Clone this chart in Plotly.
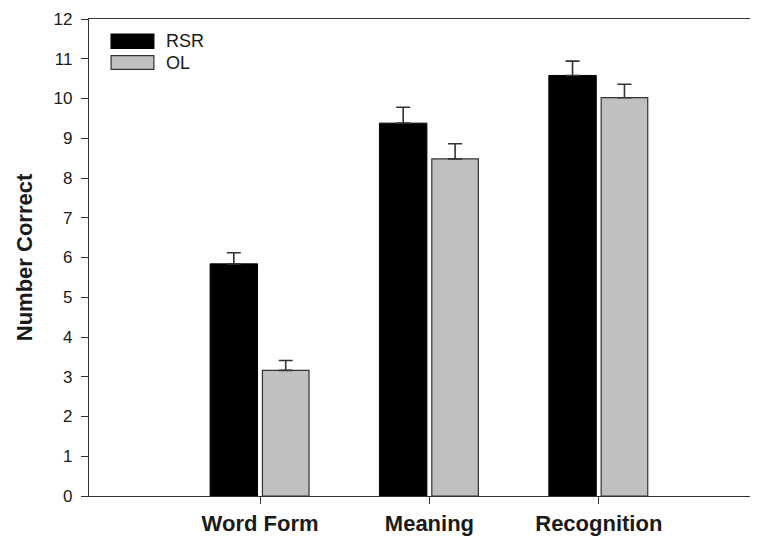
import plotly.graph_objects as go

categories = ["Word Form", "Meaning", "Recognition"]
cat_pos = [1, 2, 3]
rsr_values = [5.84, 9.38, 10.58]
rsr_err = [0.28, 0.40, 0.36]
ol_values = [3.16, 8.48, 10.02]
ol_err = [0.25, 0.38, 0.34]
y_ticks = list(range(0, 13))

font_family = "Liberation Sans, Arial, sans-serif"
ink = "#1a1a1a"

fig = go.Figure()
fig.add_trace(go.Bar(
    x=cat_pos, y=rsr_values, name="RSR",
    width=0.28, offset=-0.295,
    marker=dict(color="#000000", line=dict(color="#000000", width=1)),
    error_y=dict(type="data", array=rsr_err, symmetric=False,
                 arrayminus=[0] * len(rsr_err),
                 color="#333333", thickness=1.6, width=7),
))
fig.add_trace(go.Bar(
    x=cat_pos, y=ol_values, name="OL",
    width=0.275, offset=0.014,
    marker=dict(color="#c0c0c0", line=dict(color="#333333", width=1.2)),
    error_y=dict(type="data", array=ol_err, symmetric=False,
                 arrayminus=[0] * len(ol_err),
                 color="#333333", thickness=1.6, width=7),
))

# custom legend (wide swatches like the reference)
legend_items = [("RSR", "#000000", "#000000", 0.9686, 0.9386),
                ("OL", "#c0c0c0", "#333333", 0.9231, 0.8945)]
for name, fill, edge, y1, y0 in legend_items:
    fig.add_shape(type="rect", xref="paper", yref="paper",
                  x0=0.033, x1=0.097, y0=y0, y1=y1,
                  fillcolor=fill, line=dict(color=edge, width=1.2))
    fig.add_annotation(xref="paper", yref="paper", x=0.112, y=(y0 + y1) / 2,
                       text=name, showarrow=False, xanchor="left", yanchor="middle",
                       font=dict(family=font_family, size=18, color=ink))

fig.update_layout(
    width=750, height=528,
    margin=dict(l=81, r=0, t=11, b=40, autoexpand=False),
    paper_bgcolor="white", plot_bgcolor="white",
    showlegend=False,
    font=dict(family=font_family, color=ink),
    xaxis=dict(
        range=[-0.01, 3.94], tickvals=cat_pos, ticktext=categories,
        ticks="outside", ticklen=7, tickwidth=1, tickcolor="#333333",
        ticklabelstandoff=0,
        tickfont=dict(family=font_family, size=22, color=ink, weight="bold"),
        showline=True, linecolor="#333333", linewidth=1.2, mirror=True,
        showgrid=False, zeroline=False, automargin=False,
    ),
    yaxis=dict(
        range=[0, 12], tickvals=y_ticks,
        ticks="outside", ticklen=7, tickwidth=1, tickcolor="#333333",
        ticklabelstandoff=5,
        tickfont=dict(family=font_family, size=17, color=ink),
        showline=True, linecolor="#333333", linewidth=1.2,
        showgrid=False, zeroline=False, automargin=False,
        title=dict(text="Number Correct", standoff=14,
                   font=dict(family=font_family, size=22, color=ink, weight="bold")),
    ),
)

fig.write_html("out.html")
